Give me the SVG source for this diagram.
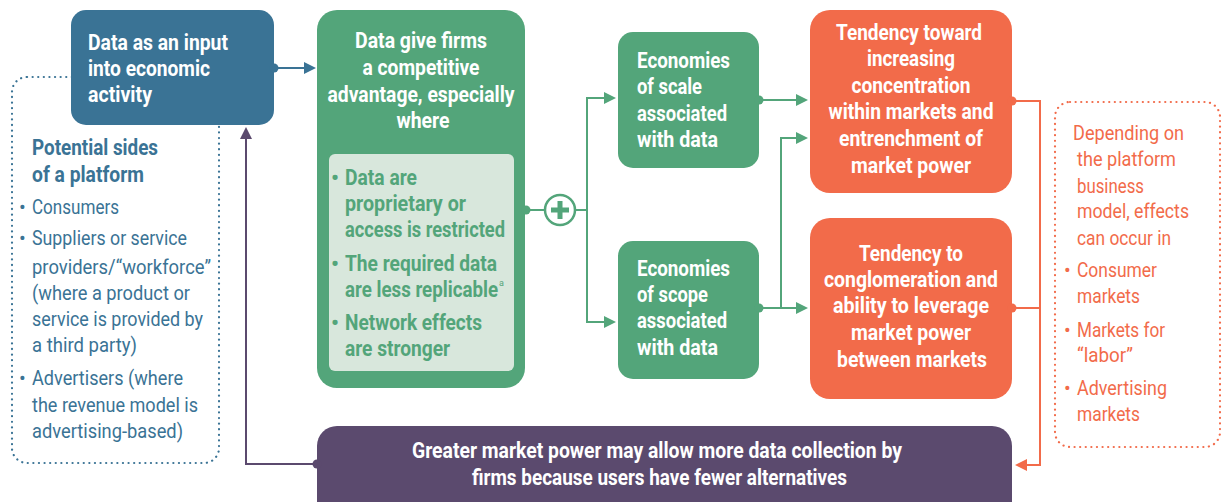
<svg xmlns="http://www.w3.org/2000/svg" width="1222" height="502" viewBox="0 0 1222 502">
<style>
.b{font-family:Roboto,"Liberation Sans",sans-serif;font-size:22px;font-weight:700;fill:#fff}
.r{font-family:Roboto,"Liberation Sans",sans-serif;font-size:20px;font-weight:400}
.bl{fill:#3a7395}
.gr{fill:#53a57a}
.or{fill:#f26b4a}
.c{text-anchor:middle}
.ln{fill:none;stroke-width:2}
</style>
<defs>
<marker id="mb" viewBox="0 0 12 12" refX="10" refY="6" markerWidth="12" markerHeight="12" markerUnits="userSpaceOnUse" orient="auto"><path d="M0,0 L12,6 L0,12 z" fill="#3a7395"/></marker>
<marker id="mg" viewBox="0 0 12 12" refX="10" refY="6" markerWidth="12" markerHeight="12" markerUnits="userSpaceOnUse" orient="auto"><path d="M0,0 L12,6 L0,12 z" fill="#53a57a"/></marker>
<marker id="mo" viewBox="0 0 12 12" refX="10" refY="6" markerWidth="12" markerHeight="12" markerUnits="userSpaceOnUse" orient="auto"><path d="M0,0 L12,6 L0,12 z" fill="#f26b4a"/></marker>
<marker id="mp" viewBox="0 0 12 12" refX="10" refY="6" markerWidth="12" markerHeight="12" markerUnits="userSpaceOnUse" orient="auto"><path d="M0,0 L12,6 L0,12 z" fill="#5b4a6e"/></marker>
</defs>
<rect width="1222" height="502" fill="#fff"/>

<g id="platform-sides">
<rect x="12" y="77" width="207" height="386" rx="15" fill="none" stroke="#3a7395" stroke-width="2.2" stroke-dasharray="0.1 5.5" stroke-linecap="round"/>
<text class="b" x="32" y="155" textLength="126" lengthAdjust="spacingAndGlyphs" style="fill:#3a7395">Potential sides</text>
<text class="b" x="32" y="182" textLength="112" lengthAdjust="spacingAndGlyphs" style="fill:#3a7395">of a platform</text>
<g class="r bl">
<text x="19" y="214">•</text>
<text x="32" y="214" textLength="87" lengthAdjust="spacingAndGlyphs">Consumers</text>
<text x="19" y="245">•</text>
<text x="32" y="245" textLength="155" lengthAdjust="spacingAndGlyphs">Suppliers or service</text>
<text x="32" y="274" textLength="179" lengthAdjust="spacingAndGlyphs">providers/“workforce”</text>
<text x="32" y="300" textLength="158" lengthAdjust="spacingAndGlyphs">(where a product or</text>
<text x="32" y="326" textLength="171" lengthAdjust="spacingAndGlyphs">service is provided by</text>
<text x="32" y="352" textLength="105" lengthAdjust="spacingAndGlyphs">a third party)</text>
<text x="19" y="385">•</text>
<text x="32" y="385" textLength="151" lengthAdjust="spacingAndGlyphs">Advertisers (where</text>
<text x="32" y="412" textLength="166" lengthAdjust="spacingAndGlyphs">the revenue model is</text>
<text x="32" y="438" textLength="151" lengthAdjust="spacingAndGlyphs">advertising-based)</text>
</g>
</g>

<g id="data-input">
<rect x="71" y="10" width="203" height="115" rx="15" fill="#3a7395"/>
<text class="b" x="88" y="50" textLength="140" lengthAdjust="spacingAndGlyphs">Data as an input</text>
<text class="b" x="88" y="76" textLength="122" lengthAdjust="spacingAndGlyphs">into economic</text>
<text class="b" x="88" y="102" textLength="64" lengthAdjust="spacingAndGlyphs">activity</text>
</g>

<g id="competitive-advantage">
<rect x="317" y="10" width="208" height="378" rx="20" fill="#53a57a"/>
<text class="b c" x="421" y="48" textLength="132" lengthAdjust="spacingAndGlyphs">Data give firms</text>
<text class="b c" x="421" y="75" textLength="117" lengthAdjust="spacingAndGlyphs">a competitive</text>
<text class="b c" x="421" y="102" textLength="187" lengthAdjust="spacingAndGlyphs">advantage, especially</text>
<text class="b c" x="423" y="128" textLength="53" lengthAdjust="spacingAndGlyphs">where</text>
<rect x="329" y="154" width="185" height="217" rx="6" fill="#d8e7dc"/>
<g class="b" style="fill:#53a57a">
<text x="331" y="185">•</text>
<text x="345" y="185" textLength="72" lengthAdjust="spacingAndGlyphs">Data are</text>
<text x="345" y="211" textLength="121" lengthAdjust="spacingAndGlyphs">proprietary or</text>
<text x="345" y="237" textLength="160" lengthAdjust="spacingAndGlyphs">access is restricted</text>
<text x="331" y="271">•</text>
<text x="345" y="271" textLength="152" lengthAdjust="spacingAndGlyphs">The required data</text>
<text x="345" y="297"><tspan textLength="153" lengthAdjust="spacingAndGlyphs">are less replicable</tspan><tspan dx="1" dy="-11" style="font-size:9px;font-weight:400">a</tspan></text>
<text x="331" y="330">•</text>
<text x="345" y="330" textLength="137" lengthAdjust="spacingAndGlyphs">Network effects</text>
<text x="345" y="356" textLength="105" lengthAdjust="spacingAndGlyphs">are stronger</text>
</g>
</g>

<g id="scale">
<rect x="618" y="32" width="141" height="136" rx="15" fill="#53a57a"/>
<text class="b" x="637" y="68" textLength="93" lengthAdjust="spacingAndGlyphs">Economies</text>
<text class="b" x="637" y="94" textLength="65" lengthAdjust="spacingAndGlyphs">of scale</text>
<text class="b" x="637" y="121" textLength="90" lengthAdjust="spacingAndGlyphs">associated</text>
<text class="b" x="637" y="147" textLength="81" lengthAdjust="spacingAndGlyphs">with data</text>
</g>

<g id="scope">
<rect x="618" y="241" width="141" height="138" rx="15" fill="#53a57a"/>
<text class="b" x="637" y="276" textLength="93" lengthAdjust="spacingAndGlyphs">Economies</text>
<text class="b" x="637" y="302" textLength="71" lengthAdjust="spacingAndGlyphs">of scope</text>
<text class="b" x="637" y="328" textLength="90" lengthAdjust="spacingAndGlyphs">associated</text>
<text class="b" x="637" y="355" textLength="81" lengthAdjust="spacingAndGlyphs">with data</text>
</g>

<g id="concentration">
<rect x="810" y="10" width="202" height="183" rx="20" fill="#f26b4a"/>
<text class="b c" x="909" y="40" textLength="146" lengthAdjust="spacingAndGlyphs">Tendency toward</text>
<text class="b c" x="911" y="66" textLength="88" lengthAdjust="spacingAndGlyphs">increasing</text>
<text class="b c" x="911" y="93" textLength="119" lengthAdjust="spacingAndGlyphs">concentration</text>
<text class="b c" x="911" y="119" textLength="165" lengthAdjust="spacingAndGlyphs">within markets and</text>
<text class="b c" x="911" y="146" textLength="144" lengthAdjust="spacingAndGlyphs">entrenchment of</text>
<text class="b c" x="911" y="173" textLength="120" lengthAdjust="spacingAndGlyphs">market power</text>
</g>

<g id="conglomeration">
<rect x="810" y="218" width="202" height="181" rx="20" fill="#f26b4a"/>
<text class="b c" x="911" y="261" textLength="104" lengthAdjust="spacingAndGlyphs">Tendency to</text>
<text class="b c" x="911" y="287" textLength="174" lengthAdjust="spacingAndGlyphs">conglomeration and</text>
<text class="b c" x="911" y="313" textLength="156" lengthAdjust="spacingAndGlyphs">ability to leverage</text>
<text class="b c" x="911" y="340" textLength="120" lengthAdjust="spacingAndGlyphs">market power</text>
<text class="b c" x="912" y="367" textLength="150" lengthAdjust="spacingAndGlyphs">between markets</text>
</g>

<g id="market-effects">
<rect x="1055" y="102" width="165" height="345" rx="15" fill="none" stroke="#f26b4a" stroke-width="2.2" stroke-dasharray="0.1 5.5" stroke-linecap="round"/>
<g class="r or">
<text x="1073" y="140" textLength="111" lengthAdjust="spacingAndGlyphs">Depending on</text>
<text x="1077" y="166" textLength="99" lengthAdjust="spacingAndGlyphs">the platform</text>
<text x="1077" y="193" textLength="67" lengthAdjust="spacingAndGlyphs">business</text>
<text x="1077" y="218" textLength="112" lengthAdjust="spacingAndGlyphs">model, effects</text>
<text x="1077" y="245" textLength="94" lengthAdjust="spacingAndGlyphs">can occur in</text>
<text x="1064" y="277">•</text>
<text x="1077" y="277" textLength="80" lengthAdjust="spacingAndGlyphs">Consumer</text>
<text x="1077" y="303" textLength="63" lengthAdjust="spacingAndGlyphs">markets</text>
<text x="1064" y="337">•</text>
<text x="1077" y="337" textLength="88" lengthAdjust="spacingAndGlyphs">Markets for</text>
<text x="1077" y="362" textLength="56" lengthAdjust="spacingAndGlyphs">“labor”</text>
<text x="1064" y="395">•</text>
<text x="1077" y="395" textLength="90" lengthAdjust="spacingAndGlyphs">Advertising</text>
<text x="1077" y="421" textLength="63" lengthAdjust="spacingAndGlyphs">markets</text>
</g>
</g>

<g id="feedback">
<rect x="317" y="426" width="695" height="100" rx="20" fill="#5b4a6e"/>
<text class="b c" x="657" y="458" textLength="490" lengthAdjust="spacingAndGlyphs">Greater market power may allow more data collection by</text>
<text class="b c" x="659.5" y="485" textLength="375" lengthAdjust="spacingAndGlyphs">firms because users have fewer alternatives</text>
</g>

<g id="connectors">
<path class="ln" d="M274,68 H314" stroke="#3a7395" marker-end="url(#mb)"/>
<circle cx="274" cy="68" r="4.5" fill="#3a7395"/>

<path class="ln" d="M526,210 H545 M575,210 H587" stroke="#53a57a"/>
<circle cx="526" cy="210" r="4.5" fill="#53a57a"/>
<circle cx="560" cy="210" r="15" fill="#fff" stroke="#53a57a" stroke-width="2.5"/>
<path d="M560,201 V219 M551,210 H569" stroke="#53a57a" stroke-width="5"/>
<path class="ln" d="M587,98 V322" stroke="#53a57a"/>
<path class="ln" d="M586,98 H614" stroke="#53a57a" marker-end="url(#mg)"/>
<path class="ln" d="M586,322 H614" stroke="#53a57a" marker-end="url(#mg)"/>

<path class="ln" d="M759,100 H806" stroke="#53a57a" marker-end="url(#mg)"/>
<circle cx="759" cy="100" r="4.5" fill="#53a57a"/>
<path class="ln" d="M759,308 H806" stroke="#53a57a" marker-end="url(#mg)"/>
<circle cx="759" cy="308" r="4.5" fill="#53a57a"/>
<path class="ln" d="M781,308 V138 H806" stroke="#53a57a" marker-end="url(#mg)"/>

<path class="ln" d="M1012,101 H1040 V465 H1017" stroke="#f26b4a" marker-end="url(#mo)"/>
<path class="ln" d="M1012,308 H1040" stroke="#f26b4a"/>
<circle cx="1012" cy="101" r="4.5" fill="#f26b4a"/>
<circle cx="1012" cy="308" r="4.5" fill="#f26b4a"/>

<path class="ln" d="M317,464 H246 V129" stroke="#5b4a6e" marker-end="url(#mp)"/>
<circle cx="317" cy="464" r="4.5" fill="#5b4a6e"/>
</g>
</svg>
